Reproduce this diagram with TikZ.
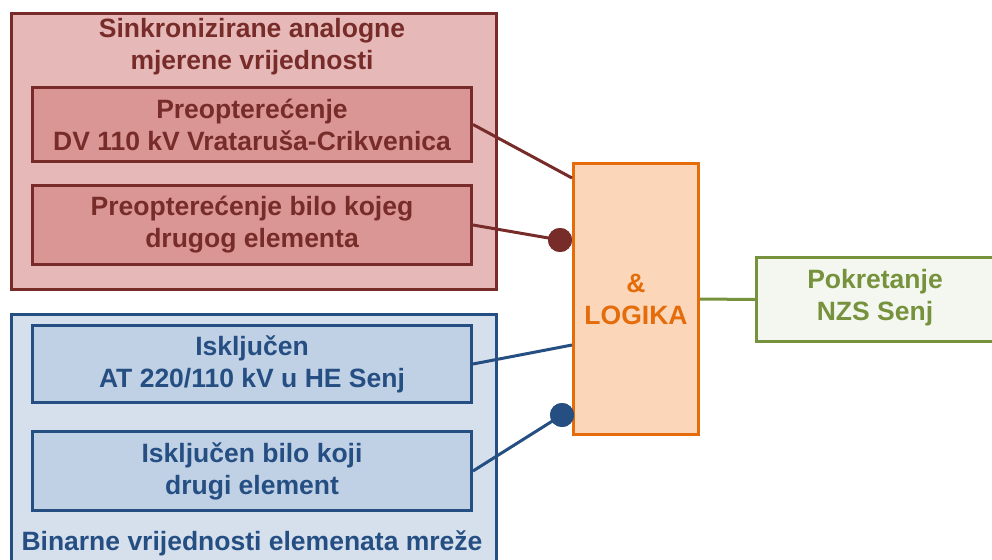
\documentclass[tikz,border=0pt]{standalone}
\usepackage{fontspec}
\setmainfont{Liberation Sans}
\definecolor{redline}{HTML}{772C2A}
\definecolor{redouter}{HTML}{E6B9B8}
\definecolor{redinner}{HTML}{D99694}
\definecolor{blueline}{HTML}{254E82}
\definecolor{blueouter}{HTML}{D6E0ED}
\definecolor{blueinner}{HTML}{C0D1E5}
\definecolor{orline}{HTML}{E46C0A}
\definecolor{orfill}{HTML}{FBD6B8}
\definecolor{grline}{HTML}{76923C}
\definecolor{grfill}{HTML}{F4F7EF}
\tikzset{
  txt/.style={font=\fontsize{26.5}{32}\selectfont\bfseries, align=center, inner sep=0pt},
  box/.style={draw, line width=3pt, inner sep=0pt, anchor=north west},
  redbox/.style={box, draw=redline, text=redline},
  bluebox/.style={box, draw=blueline, text=blueline},
  conn/.style={line width=3pt},
  dot/.style={circle, inner sep=0pt, minimum size=24pt},
}
\begin{document}
\begin{tikzpicture}[x=1pt,y=-1pt]
\useasboundingbox (0,0) rectangle (992,559);
% red group
\node[redbox, fill=redouter, minimum width=485pt, minimum height=276pt] (rout) at (10,12) {};
\node[txt, text=redline] (rtitle) at (252,47) {Sinkronizirane analogne\\mjerene vrijednosti};
\node[redbox, fill=redinner, minimum width=439pt, minimum height=74pt] (r1) at (31,86) {};
\node[txt, text=redline] (r1t) at (r1.center) {Preopterećenje\\DV 110 kV Vrataruša-Crikvenica};
\node[redbox, fill=redinner, minimum width=439pt, minimum height=79pt] (r2) at (31,184) {};
\node[txt, text=redline] (r2t) at (r2.center) {Preopterećenje bilo kojeg\\drugog elementa};
% blue group
\node[bluebox, fill=blueouter, minimum width=485pt, minimum height=270pt] (bout) at (10,313) {};
\node[bluebox, fill=blueinner, minimum width=439pt, minimum height=77pt] (b1) at (31,324) {};
\node[txt, text=blueline] (b1t) at (b1.center) {Isključen\\AT 220/110 kV u HE Senj};
\node[bluebox, fill=blueinner, minimum width=439pt, minimum height=79pt] (b2) at (31,430) {};
\node[txt, text=blueline] (b2t) at (b2.center) {Isključen bilo koji\\drugi element};
\node[txt, text=blueline] (btitle) at (252,543) {Binarne vrijednosti elemenata mreže};
% logic
\node[box, draw=orline, fill=orfill, minimum width=125pt, minimum height=271pt] (logic) at (572,162) {};
\node[txt, text=orline] (logict) at (logic.center) {\&\\LOGIKA};
% green
\node[box, draw=grline, fill=grfill, minimum width=250pt, minimum height=84pt] (out) at (755,256) {};
\node[txt, text=grline] (outt) at (875,298) {Pokretanje\\NZS Senj};
% connectors
\coordinate (in1) at (572,178);
\coordinate (in3) at (572,345);
\node[dot, fill=redline] (d1) at (560,240) {};
\node[dot, fill=blueline] (d2) at (562,415) {};
\draw[conn, redline] (r1.east) -- (in1);
\draw[conn, redline] (r2.east) -- (d1.center);
\node[dot, fill=redline] at (d1) {};
\draw[conn, blueline] (b1.east) -- (in3);
\draw[conn, blueline] (b2.east) -- (d2.center);
\node[dot, fill=blueline] at (d2) {};
\draw[conn, grline] (logic.east) -- (out.west);
\end{tikzpicture}
\end{document}
